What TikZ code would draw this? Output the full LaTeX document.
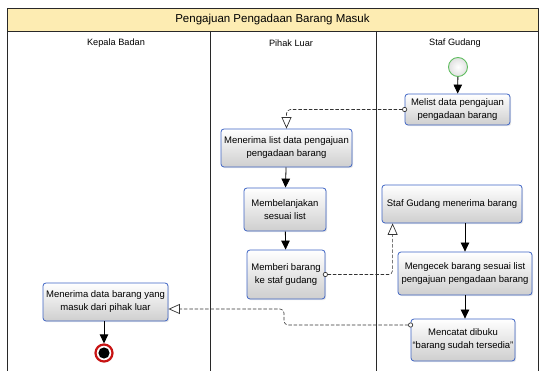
\documentclass[tikz,border=0pt]{standalone}
\usepackage{fontspec}
\setmainfont{Liberation Sans}
\usetikzlibrary{arrows.meta,shadows}
\definecolor{actblue}{RGB}{62,100,196}
\definecolor{titlefill}{RGB}{253,236,178}
\definecolor{framegray}{RGB}{40,40,40}
\definecolor{startgreen}{RGB}{96,190,96}
\definecolor{endred}{RGB}{200,20,20}
\begin{document}
\begin{tikzpicture}[x=1pt,y=-1pt,
  act/.style={draw=actblue, line width=0.8pt, rounded corners=3pt,
    top color=white, bottom color=black!19, align=center,
    font=\fontsize{9.5}{13}\selectfont, inner sep=1pt,
    drop shadow={opacity=0.2, shadow xshift=1.2pt, shadow yshift=-1.2pt}},
  flow/.style={draw=black, line width=0.8pt, -{Triangle[length=9pt,width=8.5pt]}},
  msg/.style={draw=black!80, line width=0.6pt, dash pattern=on 3.5pt off 1.8pt,
    rounded corners=4pt,
    {Circle[open,length=5pt,width=5pt,fill=white,line width=0.7pt]}-{Triangle[open,length=11.5pt,width=10pt,fill=white,line width=0.7pt]},
    shorten <=-2.5pt},
  lane/.style={font=\fontsize{9.2}{11}\selectfont}
]
\useasboundingbox (0,0) rectangle (539,371);

% swimlane frame
\fill[titlefill] (7,8) rectangle (538,31);
\draw[framegray, line width=0.8pt] (7,371) -- (7,8) -- (538,8) -- (538,371);
\draw[framegray, line width=0.8pt] (7,31) -- (538,31);
\draw[framegray, line width=0.8pt] (210,31) -- (210,371);
\draw[framegray, line width=0.8pt] (376,31) -- (376,371);
\node[font=\fontsize{11.5}{13}\selectfont] (title) at (272.5,19.5) {Pengajuan Pengadaan Barang Masuk};
\node[lane] (laneA) at (116,43) {Kepala Badan};
\node[lane] (laneB) at (291,43) {Pihak Luar};
\node[lane] (laneC) at (455,43) {Staf Gudang};

% start and end states
\node[circle, draw=startgreen, line width=0.9pt, inner color=white, outer color=black!12,
  minimum size=19pt, inner sep=0pt] (start) at (458,67) {};
\node[circle, draw=endred, line width=2.2pt, fill=white, minimum size=17pt, inner sep=0pt,
  drop shadow={opacity=0.2, shadow xshift=1pt, shadow yshift=-1pt}] (stop) at (104,353) {};
\fill[black] (stop.center) circle (5.6pt);

% activities
\node[act, minimum width=105pt, minimum height=31pt] (melist) at (457.5,109.5)
  {Melist data pengajuan\\pengadaan barang};
\node[act, minimum width=131pt, minimum height=38pt] (terima) at (286.5,148)
  {Menerima list data pengajuan\\pengadaan barang};
\node[act, minimum width=82pt, minimum height=43pt] (belanja) at (285,209.5)
  {Membelanjakan\\sesuai list};
\node[act, minimum width=78pt, minimum height=49pt] (beri) at (286,274.5)
  {Memberi barang\\ke staf gudang};
\node[act, minimum width=140pt, minimum height=38pt] (sgterima) at (452,204)
  {Staf Gudang menerima barang};
\node[act, minimum width=134pt, minimum height=43pt] (cek) at (465,273.5)
  {Mengecek barang sesuai list\\pengajuan pengadaan barang};
\node[act, minimum width=104pt, minimum height=42pt] (catat) at (463,340)
  {Mencatat dibuku\\``barang sudah tersedia''};
\node[act, minimum width=125pt, minimum height=38pt] (kbterima) at (105.5,302)
  {Menerima data barang yang\\masuk dari pihak luar};

% control flow
\draw[flow] (start) -- (melist);
\draw[flow] (terima) -- (belanja);
\draw[flow] (belanja) -- (beri);
\draw[flow] (cek.north |- sgterima.south) -- (cek.north);
\draw[flow] (cek.south) -- (cek.south |- catat.north);
\draw[flow] (stop.north |- kbterima.south) -- (stop.north);

% message flow
\draw[msg] (melist.west) -| (terima.north);
\draw[msg] (beri.east) -| ([xshift=11pt]sgterima.south west);
\draw[msg] ([yshift=15pt]catat.west) -- (284,325) -- (284,309) -- ([yshift=-7pt]kbterima.east);
\end{tikzpicture}
\end{document}
